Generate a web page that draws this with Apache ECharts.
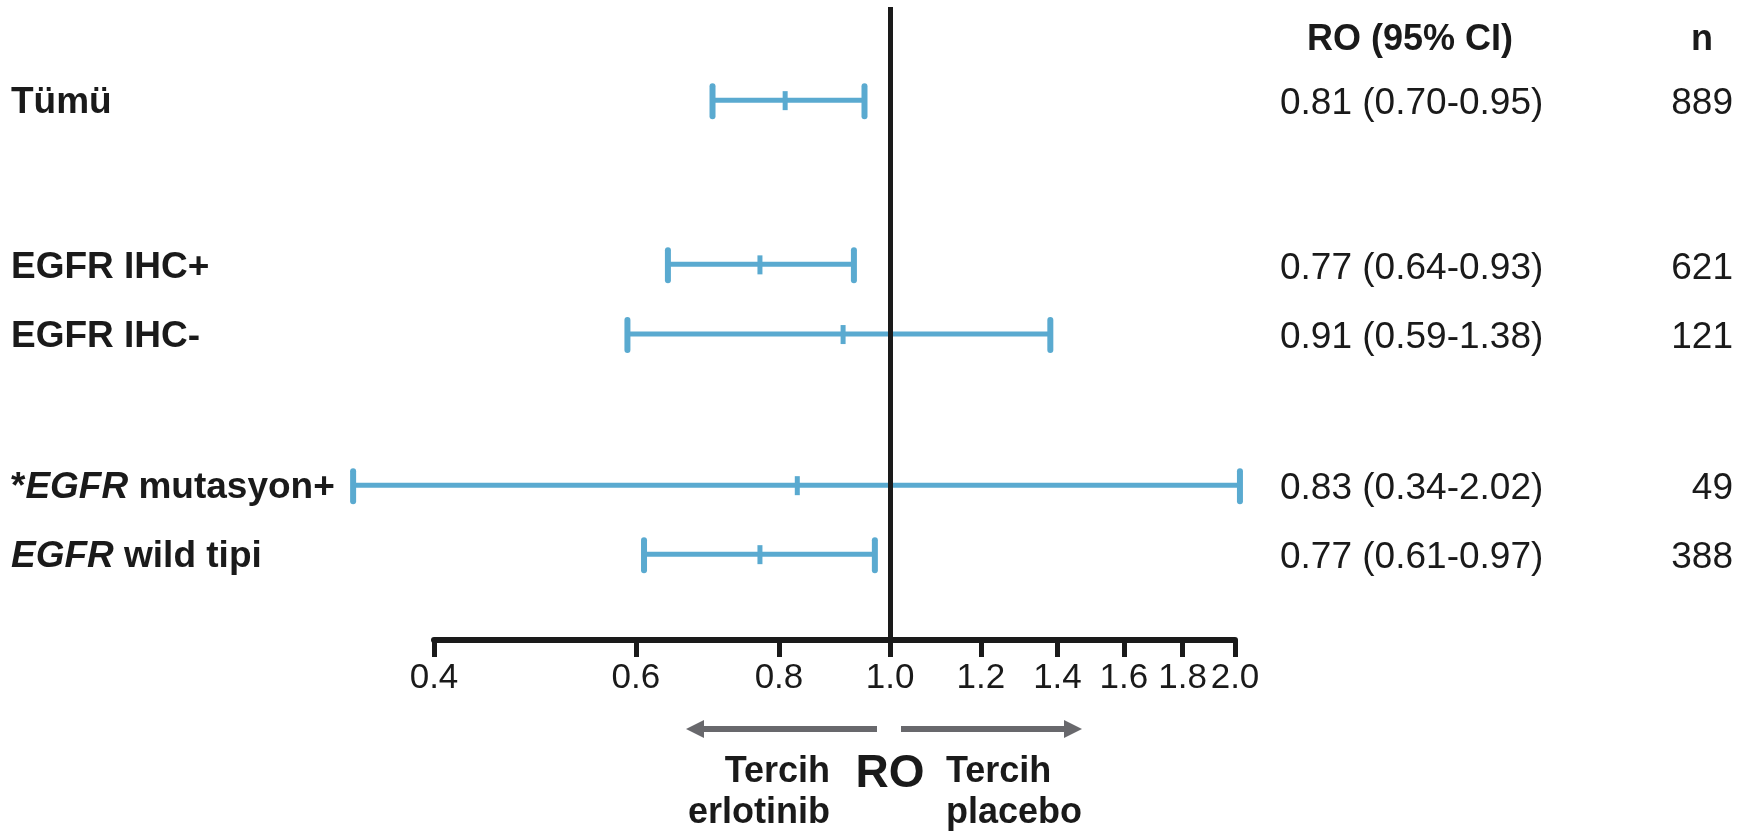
<!DOCTYPE html>
<html>
<head>
<meta charset="utf-8">
<style>
  html, body { margin: 0; padding: 0; background: #fff; }
  #chart { width: 1753px; height: 832px; }
</style>
<script src="https://cdn.jsdelivr.net/npm/echarts@6/dist/echarts.min.js"></script>
</head>
<body>
<div id="chart"></div>
<script>
var labels = ['{b|Tümü}', '{b|EGFR IHC+}', '{b|EGFR IHC-}', '{b|*}{i|EGFR}{b| mutasyon+}', '{i|EGFR}{b| wild tipi}'];
var hr = [0.81, 0.77, 0.91, 0.83, 0.77];
var lo = [0.70, 0.64, 0.59, 0.34, 0.61];
var hi = [0.95, 0.93, 1.38, 2.02, 0.97];
var nVals = [889, 621, 121, 49, 388];
var rowPos = [1.35, 3.73, 4.74, 6.93, 7.93];
var xTicks = [0.4, 0.6, 0.8, 1.0, 1.2, 1.4, 1.6, 1.8, 2.0];

var FONT = "'Liberation Sans', Arial, sans-serif";
var BLUE = '#5aaad0';
var GREY = '#68686c';

var data = hr.map(function (v, i) {
    return [Math.log(lo[i]), Math.log(hi[i]), Math.log(v), rowPos[i], i];
});

function renderItem(params, api) {
    var y = api.coord([0, api.value(3)])[1];
    var xl = api.coord([api.value(0), 0])[0];
    var xh = api.coord([api.value(1), 0])[0];
    var xm = api.coord([api.value(2), 0])[0];
    var i = api.value(4);
    var line = { stroke: BLUE, lineWidth: 5 };
    var cap = { stroke: BLUE, lineWidth: 6, lineCap: 'round' };
    return {
        type: 'group',
        children: [
            { type: 'line', shape: { x1: xl, y1: y, x2: xh, y2: y }, style: line },
            { type: 'line', shape: { x1: xl, y1: y - 14, x2: xl, y2: y + 16 }, style: cap },
            { type: 'line', shape: { x1: xh, y1: y - 14, x2: xh, y2: y + 16 }, style: cap },
            { type: 'line', shape: { x1: xm, y1: y - 9, x2: xm, y2: y + 10 }, style: { stroke: BLUE, lineWidth: 5 } },
            {
                type: 'text',
                style: {
                    x: 1280, y: y + 4,
                    text: hr[i].toFixed(2) + ' (' + lo[i].toFixed(2) + '-' + hi[i].toFixed(2) + ')',
                    fill: '#1a1a1a', fontSize: 37, fontFamily: FONT,
                    align: 'left', verticalAlign: 'middle'
                }
            },
            {
                type: 'text',
                style: {
                    x: 1733, y: y + 4,
                    text: String(nVals[i]),
                    fill: '#1a1a1a', fontSize: 37, fontFamily: FONT,
                    align: 'right', verticalAlign: 'middle'
                }
            }
        ]
    };
}

var chart = echarts.init(document.getElementById('chart'));
chart.setOption({
    animation: false,
    backgroundColor: '#fff',
    grid: { left: 434, right: 518, top: 7, bottom: 192 },
    xAxis: {
        type: 'value',
        position: 'bottom',
        min: Math.log(0.4),
        max: Math.log(2.0),
        splitLine: { show: false },
        axisLine: { show: true, onZero: false, lineStyle: { color: '#1a1a1a', width: 6 } },
        axisTick: {
            show: true,
            customValues: xTicks.map(function (v) { return Math.log(v); }),
            length: 17,
            lineStyle: { color: '#1a1a1a', width: 5 }
        },
        axisLabel: {
            customValues: xTicks.map(function (v) { return Math.log(v); }),
            formatter: function (v) { return Math.exp(v).toFixed(1); },
            color: '#1a1a1a',
            fontSize: 35,
            fontFamily: FONT,
            margin: 21,
            hideOverlap: false
        }
    },
    yAxis: {
        type: 'value',
        inverse: true,
        min: 0,
        max: 9.174,
        splitLine: { show: false },
        axisLine: { show: false },
        axisTick: { show: false },
        axisLabel: {
            customValues: rowPos,
            formatter: function (v) {
                var k = rowPos.indexOf(v);
                return k >= 0 ? labels[k] : '';
            },
            align: 'left',
            margin: 423,
            padding: [6, 0, 0, 0],
            rich: {
                b: { fontSize: 37, fontWeight: 'bold', fontFamily: FONT, color: '#1a1a1a' },
                i: { fontSize: 37, fontWeight: 'bold', fontStyle: 'italic', fontFamily: FONT, color: '#1a1a1a' }
            }
        }
    },
    series: [{
        type: 'custom',
        renderItem: renderItem,
        clip: false,
        data: data,
        z: 2,
        markLine: {
            silent: true,
            symbol: 'none',
            label: { show: false },
            lineStyle: { color: '#1a1a1a', width: 5, type: 'solid' },
            data: [{ xAxis: 0 }],
            z: 5
        }
    }],
    graphic: [
        { type: 'text', style: { x: 1410, y: 40, text: 'RO (95% CI)', fontSize: 36, fontWeight: 'bold', fontFamily: FONT, fill: '#1a1a1a', align: 'center', verticalAlign: 'middle' } },
        { type: 'text', style: { x: 1702, y: 40, text: 'n', fontSize: 36, fontWeight: 'bold', fontFamily: FONT, fill: '#1a1a1a', align: 'center', verticalAlign: 'middle' } },
        { type: 'line', shape: { x1: 877, y1: 729, x2: 700, y2: 729 }, style: { stroke: GREY, lineWidth: 6 } },
        { type: 'polygon', shape: { points: [[686, 729], [704, 720], [704, 738]] }, style: { fill: GREY } },
        { type: 'line', shape: { x1: 901, y1: 729, x2: 1068, y2: 729 }, style: { stroke: GREY, lineWidth: 6 } },
        { type: 'polygon', shape: { points: [[1082, 729], [1064, 720], [1064, 738]] }, style: { fill: GREY } },
        { type: 'text', style: { x: 830, y: 772, text: 'Tercih', fontSize: 36, fontWeight: 'bold', fontFamily: FONT, fill: '#1a1a1a', align: 'right', verticalAlign: 'middle' } },
        { type: 'text', style: { x: 830, y: 813, text: 'erlotinib', fontSize: 36, fontWeight: 'bold', fontFamily: FONT, fill: '#1a1a1a', align: 'right', verticalAlign: 'middle' } },
        { type: 'text', style: { x: 890, y: 774, text: 'RO', fontSize: 46, fontWeight: 'bold', fontFamily: FONT, fill: '#1a1a1a', align: 'center', verticalAlign: 'middle' } },
        { type: 'text', style: { x: 946, y: 772, text: 'Tercih', fontSize: 36, fontWeight: 'bold', fontFamily: FONT, fill: '#1a1a1a', align: 'left', verticalAlign: 'middle' } },
        { type: 'text', style: { x: 946, y: 813, text: 'placebo', fontSize: 36, fontWeight: 'bold', fontFamily: FONT, fill: '#1a1a1a', align: 'left', verticalAlign: 'middle' } }
    ]
});
</script>
</body>
</html>
